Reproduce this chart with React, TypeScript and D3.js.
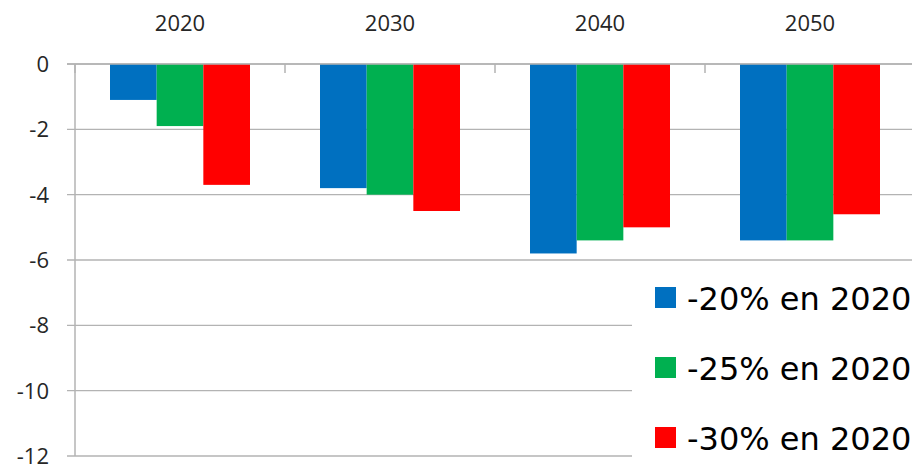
import React from "react";
import * as d3 from "d3";

const categories = ["2020", "2030", "2040", "2050"];
const seriesNames = ["-20% en 2020", "-25% en 2020", "-30% en 2020"];
const seriesColors = ["#0070C0", "#00B050", "#FF0000"];
const s20 = [-1.1, -3.8, -5.8, -5.4];
const s25 = [-1.9, -4.0, -5.4, -5.4];
const s30 = [-3.7, -4.5, -5.0, -4.6];
const seriesValues = [s20, s25, s30];
const yTicks = [0, -2, -4, -6, -8, -10, -12];

export default function App() {
  const W = 912;
  const H = 466;
  const x0 = d3.scaleBand<string>().domain(categories).range([75, 915]).paddingInner(0).paddingOuter(0);
  const x1 = d3
    .scaleBand<string>()
    .domain(seriesNames)
    .range([0, x0.bandwidth()])
    .paddingInner(0)
    .paddingOuter(0.75);
  const y = d3.scaleLinear().domain([-12, 0]).range([456, 64]);
  const gridColor = "#B3B3B3";
  const textColor = "#262626";

  return (
    <svg
      width={W}
      height={H}
      style={{ position: "absolute", left: 0, top: 0, background: "#fff" }}
    >
      <rect x={0} y={0} width={W} height={H} fill="#fff" />
      {/* gridlines */}
      {yTicks.map((t) => (
        <line key={"g" + t} x1={67} x2={W} y1={y(t)} y2={y(t)} stroke={gridColor} strokeWidth={1.3} />
      ))}
      {/* y tick labels */}
      {yTicks.map((t) => (
        <text
          key={"yl" + t}
          x={49}
          y={y(t) + 8}
          textAnchor="end"
          fontFamily="'Open Sans', sans-serif"
          fontSize={22}
          fill={textColor}
        >
          {t}
        </text>
      ))}
      {/* bars */}
      {seriesValues.map((vals, si) =>
        vals.map((v, ci) => (
          <rect
            key={"b" + si + "-" + ci}
            x={(x0(categories[ci]) as number) + (x1(seriesNames[si]) as number)}
            y={y(0)}
            width={x1.bandwidth()}
            height={y(v) - y(0)}
            fill={seriesColors[si]}
          />
        ))
      )}
      {/* y axis */}
      <line x1={75} x2={75} y1={y(0)} y2={y(-12)} stroke={gridColor} strokeWidth={1.5} />
      {/* category axis along zero with ticks */}
      <line x1={67} x2={W} y1={y(0)} y2={y(0)} stroke={gridColor} strokeWidth={1.5} />
      {categories.map((c) => (
        <line
          key={"ct" + c}
          x1={x0(c) as number}
          x2={x0(c) as number}
          y1={y(0)}
          y2={y(0) + 9}
          stroke={gridColor}
          strokeWidth={1.5}
        />
      ))}
      {categories.map((c) => (
        <text
          key={"cl" + c}
          x={(x0(c) as number) + x0.bandwidth() / 2}
          y={31}
          textAnchor="middle"
          fontFamily="'Open Sans', sans-serif"
          fontSize={22}
          fill={textColor}
        >
          {c}
        </text>
      ))}
      {/* legend */}
      <rect x={632} y={262} width={W - 632} height={H - 262} fill="#fff" />
      {seriesNames.map((n, i) => (
        <g key={"lg" + i} transform={`translate(655, ${287 + i * 70})`}>
          <rect x={0} y={0} width={21} height={21} fill={seriesColors[i]} />
          <text
            x={32}
            y={23}
            fontFamily="'DejaVu Sans', sans-serif"
            fontSize={32}
            fill="#000"
          >
            {n}
          </text>
        </g>
      ))}
    </svg>
  );
}
